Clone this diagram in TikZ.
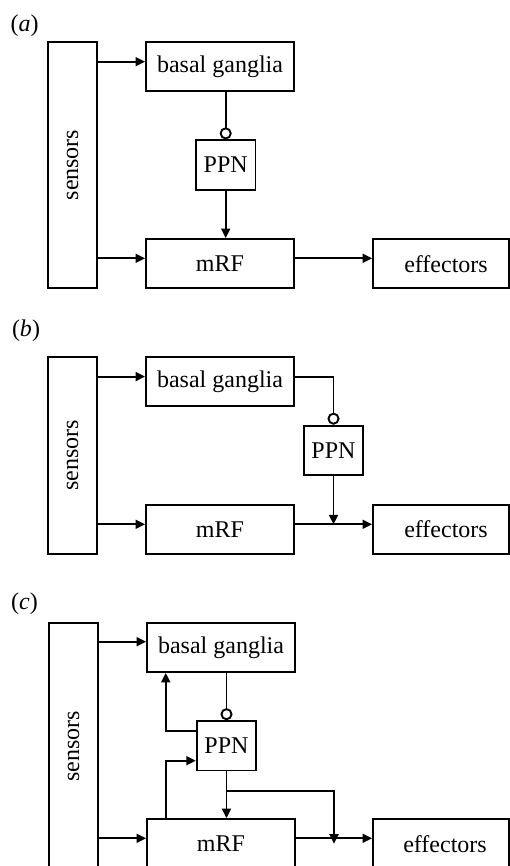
\documentclass[tikz,border=0pt]{standalone}
\usepackage{fontspec}
\setmainfont{Liberation Serif}
\usetikzlibrary{arrows.meta,calc}

\begin{document}
\begin{tikzpicture}[x=1pt,y=-1pt,line width=1.9pt,
  lbl/.style={font=\fontsize{24}{28}\selectfont, inner sep=0pt},
  box/.style={draw, inner sep=0pt, minimum height=49.3pt, font=\fontsize{24}{28}\selectfont},
  wide/.style={box, minimum width=148pt},
  small/.style={box, minimum width=59.6pt},
  outbox/.style={box, minimum width=136pt},
  sensbox/.style={box, minimum width=49.3pt},
  arr/.style={-{Triangle[length=9.5pt,width=9pt]}},
  inh/.style={-{Circle[length=12pt,width=12pt,fill=white]}}]
\useasboundingbox (0,0) rectangle (510,866);
\clip (0,0) rectangle (510,866);

% ---------- (a) ----------
\node[lbl] (a-lab) at (24.5,25.5) {(\textit{a})};
\node[sensbox, minimum height=246.7pt] (a-sens) at (72.7,165) {\rotatebox{90}{sensors}};
\node[wide] (a-bg) at (220,66.4) {basal ganglia};
\node[small] (a-ppn) at (225.7,165) {PPN};
\node[wide] (a-mrf) at (220,263.7) {mRF};
\node[outbox] (a-eff) at (441,263.7) {\hspace{10pt}effectors};
\coordinate (a-bgin) at ([yshift=4.7pt]a-bg.west);
\coordinate (a-mrfin) at ([yshift=5.4pt]a-mrf.west);
\draw[arr] (a-sens.east |- a-bgin) -- (a-bgin);
\draw[arr] (a-sens.east |- a-mrfin) -- (a-mrfin);
\draw[inh] (a-ppn.north |- a-bg.south) -- (a-ppn.north);
\draw[arr] (a-ppn.south) -- (a-ppn.south |- a-mrf.north);
\draw[arr] (a-mrf.east |- a-mrfin) -- (a-eff.west |- a-mrfin);

% ---------- (b) ----------
\node[lbl] (b-lab) at (26,331) {(\textit{b})};
\node[sensbox, minimum height=197.3pt] (b-sens) at (72.7,455.3) {\rotatebox{90}{sensors}};
\node[wide] (b-bg) at (220,381.3) {basal ganglia};
\node[small] (b-ppn) at (333.5,450.3) {PPN};
\node[wide] (b-mrf) at (220,529.3) {mRF};
\node[outbox] (b-eff) at (441,529.3) {\hspace{10pt}effectors};
\coordinate (b-bgin) at ([yshift=4.7pt]b-bg.west);
\coordinate (b-mrfin) at ([yshift=5pt]b-mrf.west);
\coordinate (b-j) at (b-ppn.south |- b-mrfin);
\draw[arr] (b-sens.east |- b-bgin) -- (b-bgin);
\draw[arr] (b-sens.east |- b-mrfin) -- (b-mrfin);
\draw[inh] (b-bg.east |- b-bgin) -| (b-ppn.north);
\draw[arr] (b-mrf.east |- b-mrfin) -- (b-eff.west |- b-mrfin);
\draw[arr] (b-ppn.south) -- (b-j);

% ---------- (c) ----------
\node[lbl] (c-lab) at (24.5,604) {(\textit{c})};
\node[sensbox, minimum height=246.7pt] (c-sens) at (73.5,746) {\rotatebox{90}{sensors}};
\node[wide] (c-bg) at (221,647.3) {basal ganglia};
\node[small] (c-ppn) at (226.5,745.8) {PPN};
\node[wide] (c-mrf) at (221,843.7) {mRF};
\node[outbox] (c-eff) at (441,843.7) {\hspace{8pt}effectors};
\coordinate (c-bgin) at ([yshift=5.6pt]c-bg.west);
\coordinate (c-mrfin) at ([yshift=5.4pt]c-mrf.west);
\coordinate (c-fb) at ([xshift=19.7pt]c-bg.south west);
\coordinate (c-ff) at ([xshift=19.7pt]c-mrf.north west);
\coordinate (c-br) at ([yshift=-19.6pt]c-ppn.south);
\coordinate (c-j) at ($(c-mrf.east)!0.5!(c-eff.west)$ |- c-mrfin);
\draw[arr] (c-sens.east |- c-bgin) -- (c-bgin);
\draw[arr] (c-sens.east |- c-mrfin) -- (c-mrfin);
\draw[inh] (c-ppn.north |- c-bg.south) -- (c-ppn.north);
\draw[arr] ([yshift=14.5pt]c-ppn.west) -| (c-fb);
\draw[arr] (c-ff) |- ([yshift=-14.9pt]c-ppn.west);
\draw[arr] (c-ppn.south) -- (c-ppn.south |- c-mrf.north);
\draw[arr] (c-br) -| (c-j);
\draw[arr] (c-mrf.east |- c-mrfin) -- (c-eff.west |- c-mrfin);
\end{tikzpicture}
\end{document}
